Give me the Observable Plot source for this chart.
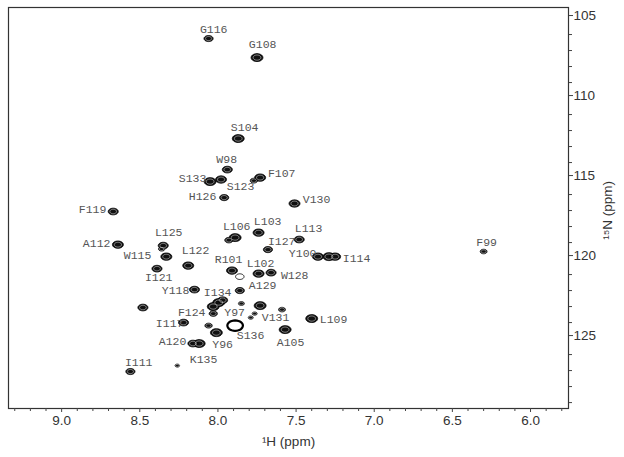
<!DOCTYPE html>
<html>
<head>
<meta charset="utf-8">
<script src="https://cdn.jsdelivr.net/npm/d3@7"></script>
<script src="https://cdn.jsdelivr.net/npm/@observablehq/plot@0.6"></script>
<style>
  html, body { margin: 0; padding: 0; background: #fff; }
</style>
</head>
<body>
<div id="chart"></div>
<script>
// Peak centres (1H ppm, 15N ppm) and relative intensity
const peakH = [8.06, 7.75, 7.87, 7.94, 8.05, 7.98, 7.73, 7.77, 7.96, 7.51, 8.67,
  7.89, 7.93, 7.74, 8.35, 8.36, 8.64, 7.48, 7.68, 7.36, 7.29, 7.25, 8.33, 8.19, 8.39,
  7.91, 7.74, 7.66, 7.86, 8.15, 7.995, 8.03, 7.97, 7.85, 7.73, 7.59, 7.40, 8.48,
  8.03, 8.22, 8.06, 8.01, 7.57, 8.16, 8.12, 8.26, 8.56, 6.30, 7.765, 7.79];
const peakN = [106.25, 107.44, 112.5, 114.44, 115.19, 115.06, 114.94, 115.13, 116.19, 116.56, 117.06,
  118.69, 118.85, 118.38, 119.19, 119.4, 119.13, 118.81, 119.44, 119.88, 119.88, 119.88, 119.88, 120.44, 120.63,
  120.75, 120.94, 120.88, 122.0, 121.94, 122.75, 123.0, 122.6, 122.81, 122.94, 123.19, 123.75, 123.06,
  123.44, 124.0, 124.19, 124.63, 124.44, 125.31, 125.31, 126.69, 127.06, 119.56, 123.44, 123.69];
const peakAmp = [0.7, 1.0, 1.0, 0.8, 1.0, 0.9, 0.9, 0.5, 0.7, 0.9, 0.8,
  1.0, 0.6, 0.9, 0.8, 0.4, 0.9, 0.8, 0.7, 0.9, 1.0, 0.9, 0.9, 0.9, 0.8,
  0.9, 0.9, 0.8, 0.7, 0.8, 1.0, 1.0, 0.8, 0.35, 1.0, 0.45, 1.0, 0.8,
  0.6, 0.8, 0.5, 1.0, 1.0, 0.8, 1.0, 0.2, 0.7, 0.45, 0.25, 0.25];

// Weak / hollow contours
const ringH = [7.89, 7.86];
const ringN = [124.19, 121.13];
const ringAmp = [1.0, 0.45];

// Assignment labels and their positions (ppm)
const labelText = ["G116", "G108", "S104", "W98", "S133", "F107", "S123", "H126", "V130", "F119",
  "L106", "L103", "L125", "A112", "L113", "I127", "Y100", "I114", "W115", "L122", "I121",
  "R101", "L102", "W128", "A129", "Y118", "I134", "F124", "Y97", "V131", "I117", "S136",
  "A105", "A120", "Y96", "K135", "I111", "L109", "F99"];
const labelH = [8.027, 7.714, 7.829, 7.944, 8.162, 7.592, 7.855, 8.098, 7.369, 8.802,
  7.880, 7.682, 8.315, 8.776, 7.420, 7.592, 7.458, 7.113, 8.514, 8.143, 8.379,
  7.932, 7.727, 7.509, 7.714, 8.271, 8.002, 8.168, 7.893, 7.631, 8.309, 7.791,
  7.535, 8.290, 7.970, 8.092, 8.507, 7.260, 6.281];
const labelN = [105.69, 106.63, 111.81, 113.81, 115.0, 114.69, 115.5, 116.13, 116.31, 116.94,
  118.0, 117.69, 118.38, 119.06, 118.13, 118.94, 119.69, 120.0, 119.81, 119.5, 121.19,
  120.06, 120.31, 121.06, 121.69, 122.0, 122.13, 123.38, 123.38, 123.69, 124.06, 124.81,
  125.25, 125.19, 125.38, 126.31, 126.5, 123.81, 119.0];

// Axis ticks
const xMajor = [9.0, 8.5, 8.0, 7.5, 7.0, 6.5, 6.0];
const xMinor = [9.3, 9.2, 9.1, 8.9, 8.8, 8.7, 8.6, 8.4, 8.3, 8.2, 8.1, 7.9, 7.8, 7.7, 7.6,
  7.4, 7.3, 7.2, 7.1, 6.9, 6.8, 6.7, 6.6, 6.4, 6.3, 6.2, 6.1, 5.9, 5.8];
const yMajor = [105, 110, 115, 120, 125];
const yMinor = [106, 107, 108, 109, 111, 112, 113, 114, 116, 117, 118, 119, 121, 122, 123, 124, 126, 127, 128, 129];

const peaks = peakH.map((h, i) => ({h, n: peakN[i], a: peakAmp[i]}));
const rings = ringH.map((h, i) => ({h, n: ringN[i], a: ringAmp[i]}));
const labels = labelText.map((t, i) => ({t, h: labelH[i], n: labelN[i]}));

const ellipse = {
  draw(ctx, size) {
    const r = Math.sqrt(size / Math.PI);
    const rx = r * 1.35, ry = r * 0.9, k = 28;
    for (let i = 0; i < k; i++) {
      const t = 2 * Math.PI * i / k;
      const px = rx * Math.cos(t), py = ry * Math.sin(t);
      if (i === 0) ctx.moveTo(px, py); else ctx.lineTo(px, py);
    }
    ctx.closePath();
  }
};

const mono = "'Liberation Mono', 'Courier New', monospace";
const sans = "'Liberation Sans', Arial, sans-serif";

const chart = Plot.plot({
  width: 624,
  height: 457,
  marginLeft: 8,
  marginRight: 56,
  marginTop: 7,
  marginBottom: 49,
  style: {fontFamily: sans, background: "#fff", color: "#333"},
  x: {domain: [9.34, 5.757]},
  y: {domain: [129.37, 104.31]},
  r: {type: "linear", domain: [0, 1], range: [1, 4.4]},
  marks: [
    Plot.frame({stroke: "#333", strokeWidth: 1.2}),
    Plot.axisX({ticks: xMinor, tickSize: 3, tickFormat: null, text: null, label: null, stroke: "#444"}),
    Plot.axisX({ticks: xMajor, tickSize: 4, tickFormat: d3.format(".1f"), fontSize: 13.5, label: null, tickPadding: 3, stroke: "#444", fill: "#333"}),
    Plot.axisY({anchor: "right", ticks: yMinor, tickSize: 3, tickFormat: null, text: null, label: null, stroke: "#444"}),
    Plot.axisY({anchor: "right", ticks: yMajor, tickSize: 4, fontSize: 13.5, label: null, tickPadding: 1, stroke: "#444", fill: "#333", textAnchor: "start", dy: -3}),
    // peaks as nested contours
    Plot.dot(peaks, {x: "h", y: "n", r: "a", symbol: ellipse, fill: "#111", stroke: "#000", strokeWidth: 0.8}),
    Plot.dot(peaks, {x: "h", y: "n", r: d => d.a * 0.55, symbol: ellipse, fill: "none", stroke: "#fff", strokeWidth: 0.6, strokeOpacity: 0.8}),
    Plot.dot(rings, {x: "h", y: "n", r: d => d.a * 1.4, symbol: ellipse, fill: "#fff", stroke: "#000", strokeWidth: d => d.a > 0.8 ? 2.2 : 0.8}),
    Plot.text(labels, {x: "h", y: "n", text: "t", fontFamily: mono, fontSize: 11.5, fill: "#555"}),
    Plot.text(["¹H (ppm)"], {frameAnchor: "bottom", lineAnchor: "middle", dy: 33, fontSize: 13.5, fill: "#333"}),
    Plot.text(["¹⁵N (ppm)"], {frameAnchor: "right", dx: 39, dy: -27, rotate: -90, fontSize: 13.5, fill: "#333"})
  ]
});
document.getElementById("chart").append(chart);
</script>
</body>
</html>
